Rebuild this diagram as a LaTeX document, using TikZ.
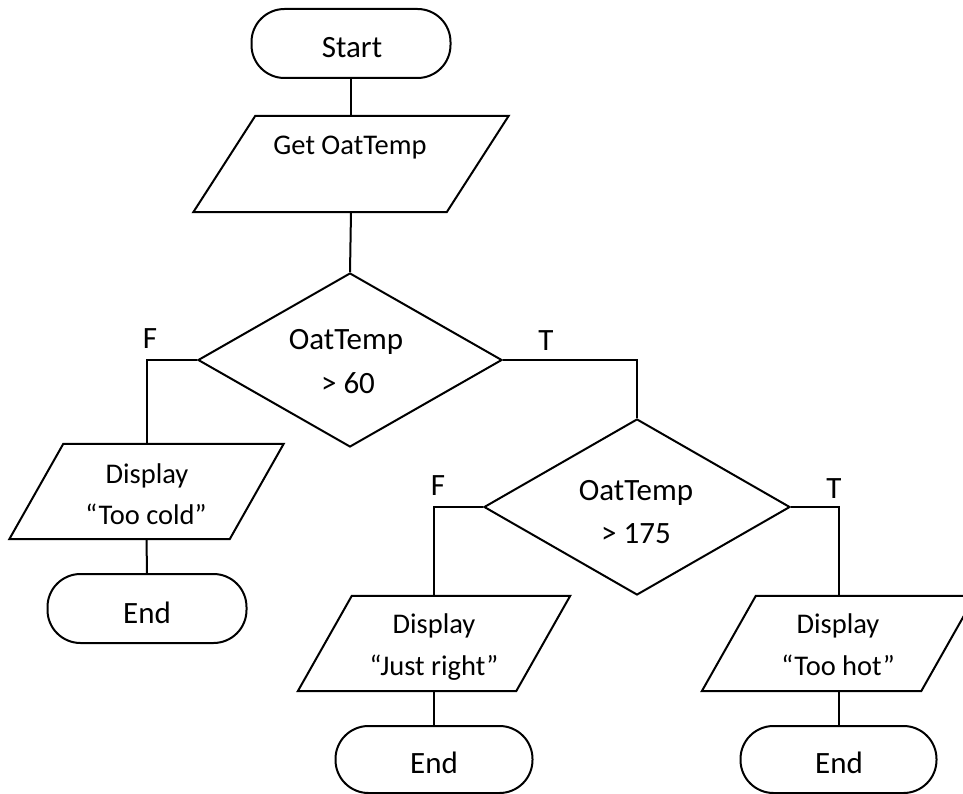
\documentclass[tikz,border=0pt]{standalone}
\usepackage{fontspec}
\setmainfont{Carlito}
\usetikzlibrary{shapes.geometric}
\newcommand\bigtxt{\fontsize{31}{37}\selectfont}
\newcommand\midtxt{\fontsize{28.5}{34}\selectfont}
\newcommand\myparaframe[2]{\draw[conn] ([xshift=#2]#1.north west) -- (#1.north east) -- ([xshift=-#2]#1.south east) -- (#1.south west) -- cycle;}
\tikzset{
  conn/.style={line width=2pt, draw=black, line join=miter},
  term/.style={draw, line width=2pt, rectangle, rounded corners=33pt, inner sep=0pt},
  parabox/.style={rectangle, inner sep=0pt},
  decide/.style={draw, line width=2pt, diamond, inner sep=0pt},
  tbig/.style={anchor=base, inner sep=0pt, font=\bigtxt},
  tmid/.style={anchor=base, inner sep=0pt, font=\midtxt},
}
\begin{document}
\begin{tikzpicture}[x=1pt,y=-1pt]
\useasboundingbox (0,0) rectangle (963,794);
\clip (0,0) rectangle (963,794);
% shapes
\node[term, minimum width=199pt, minimum height=69pt] (start) at (351,43.5) {};
\node[parabox, minimum width=315pt, minimum height=96pt] (get) at (351,164) {};
\myparaframe{get}{62pt}
\node[decide, minimum width=304pt, minimum height=174pt] (d1) at (350,360) {};
\node[decide, minimum width=306pt, minimum height=176pt] (d2) at (637,507) {};
\node[parabox, minimum width=274pt, minimum height=95pt] (cold) at (146.5,491.5) {};
\myparaframe{cold}{54pt}
\node[parabox, minimum width=272pt, minimum height=95pt] (right) at (434,643.5) {};
\myparaframe{right}{54pt}
\node[parabox, minimum width=273pt, minimum height=95pt] (hot) at (838.5,643.5) {};
\myparaframe{hot}{54pt}
\node[term, minimum width=199pt, minimum height=69pt] (end1) at (147,608.5) {};
\node[term, minimum width=197pt, minimum height=67pt] (end2) at (434,759.5) {};
\node[term, minimum width=196pt, minimum height=67pt] (end3) at (838.5,759.5) {};
% texts
\node[tbig] (tstart) at (352,58) {Start};
\node[tmid] (tget) at (350,155) {Get OatTemp};
\node[tbig] (td1a) at (346,349) {OatTemp};
\node[tbig] (td1b) at (348,393) {> 60};
\node[tbig] (td2a) at (636,500) {OatTemp};
\node[tbig] (td2b) at (636,543) {> 175};
\node[tmid] (tc1) at (147,483) {Display};
\node[tmid] (tc2) at (146,524) {“Too cold”};
\node[tmid] (tr1) at (434,633) {Display};
\node[tmid] (tr2) at (434,675) {“Just right”};
\node[tmid] (th1) at (838,633) {Display};
\node[tmid] (th2) at (838,675) {“Too hot”};
\node[tbig] (te1) at (147,623) {End};
\node[tbig] (te2) at (434,773) {End};
\node[tbig] (te3) at (839,773) {End};
\node[tbig] (f1) at (150,348) {F};
\node[tbig] (t1) at (546,350) {T};
\node[tbig] (f2) at (438,495) {F};
\node[tbig] (t2) at (834,498) {T};
% connectors
\draw[conn] (start.south) -- (get.north);
\draw[conn] (get.south) -- (d1.north);
\draw[conn] (d1.west) -| (cold.north);
\draw[conn] (d1.east) -| (d2.north);
\draw[conn] (d2.west) -| (right.north);
\draw[conn] (d2.east) -| (hot.north);
\draw[conn] (cold.south) -- (end1.north);
\draw[conn] (right.south) -- (end2.north);
\draw[conn] (hot.south) -- (end3.north);
\end{tikzpicture}
\end{document}
